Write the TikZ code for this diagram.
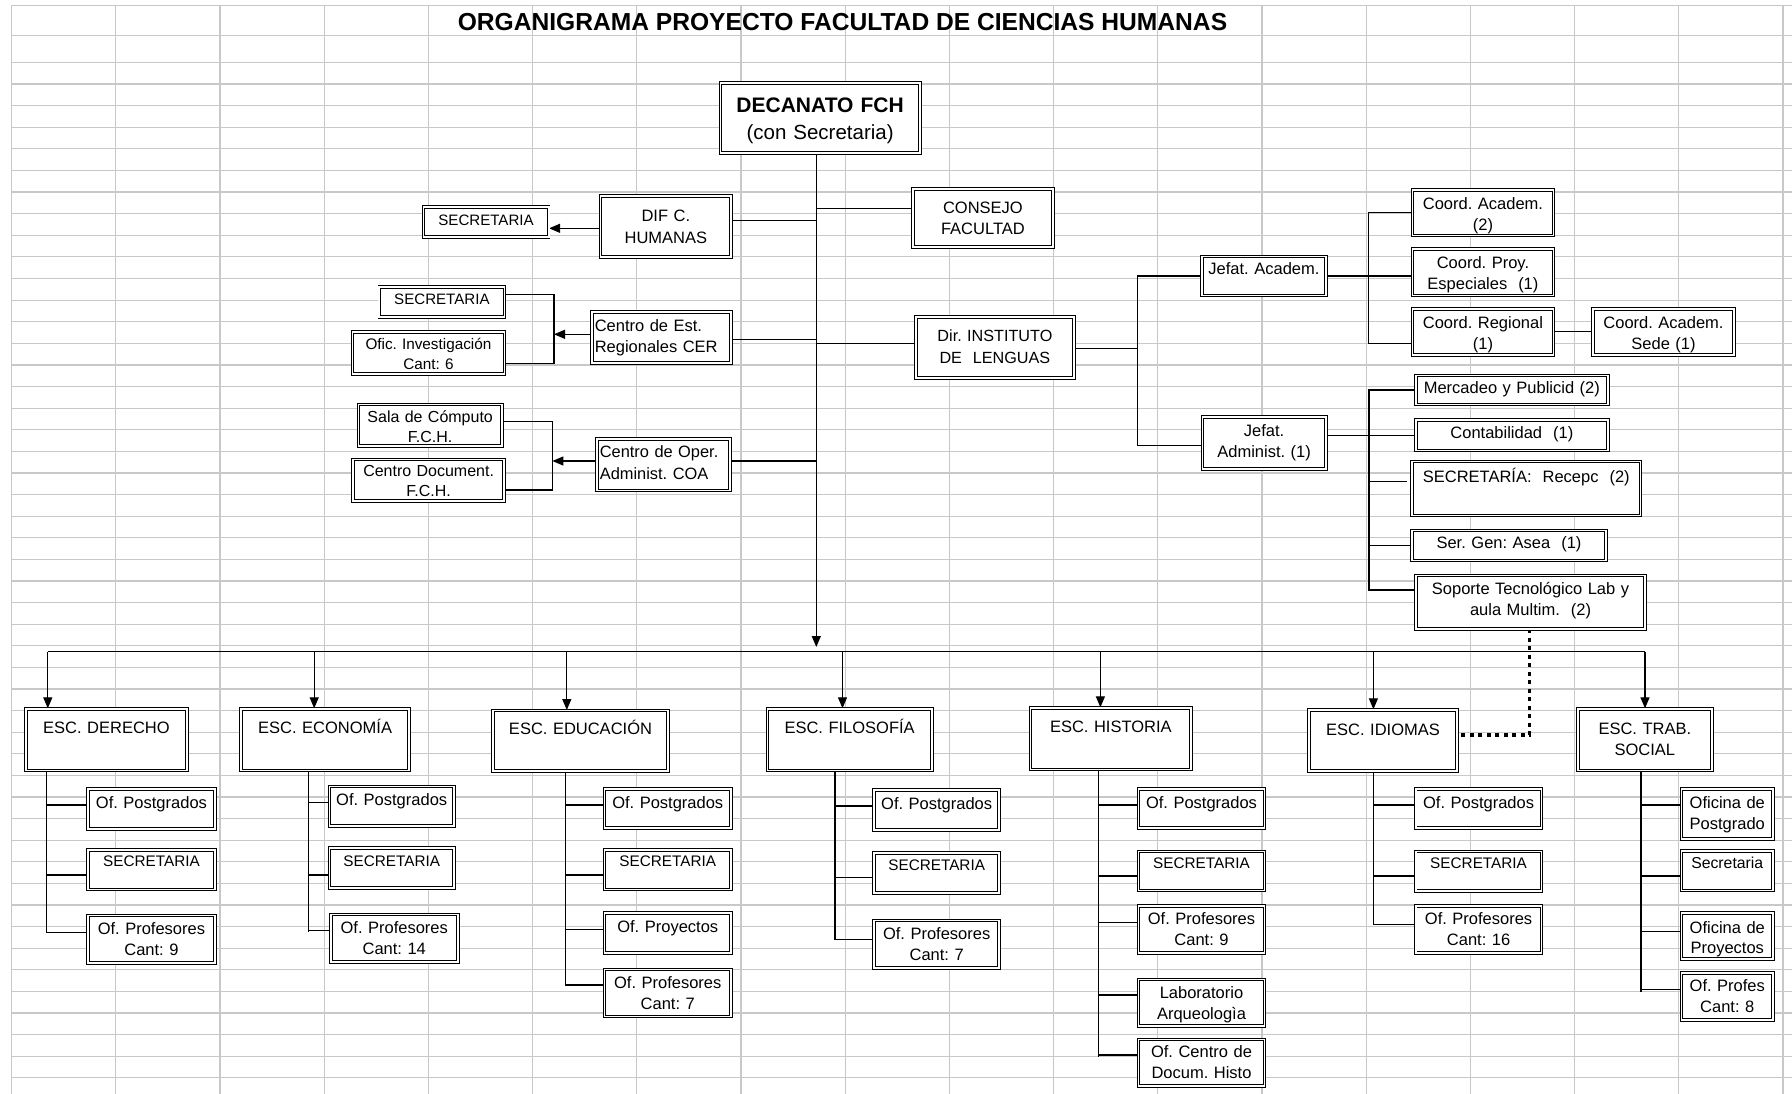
\documentclass[tikz,border=0pt]{standalone}
\usepackage{fontspec}
\setmainfont{Liberation Sans}
\usetikzlibrary{arrows.meta}
\definecolor{gridc}{RGB}{200,200,200}
\pgfdeclarelayer{gridlayer}
\pgfdeclarelayer{linelayer}
\pgfsetlayers{gridlayer,linelayer,main}
\tikzset{
  ob/.style={draw=black, double=white, double distance=1.8pt, line width=0.9pt,
    fill=white, inner xsep=3pt, inner ysep=0pt, font=\fontsize{16.5}{21}\selectfont},
  sm/.style={font=\fontsize{15.3}{20}\selectfont},
  ln/.style={line width=1.25pt, draw=black},
  arr/.style={ln, -{Triangle[length=11pt,width=9pt]}},
  dotl/.style={line width=3.5pt, dash pattern=on 4pt off 4.5pt},
  gridl/.style={line width=1.2pt, draw=gridc},
}
\newcommand\obox[8]{%
  \pgfmathsetmacro\obw{#4-6}%
  \pgfmathsetmacro\obd{#5-#6}%
  \node[ob, anchor=north west, text width=\obw pt, text height=#6pt,
        text depth=\obd pt, align=center, #7] (#1) at (#2,#3) {\frenchspacing #8};}
\begin{document}
\frenchspacing
\begin{tikzpicture}[x=1pt,y=-1pt]
\useasboundingbox (0,0) rectangle (1792,1094);
\begin{pgfonlayer}{gridlayer}
  \fill[white] (0,0) rectangle (1792,1094);
  \foreach \k in {0,...,17} \draw[gridl] ({11.5+\k*104.2},5.5) -- ({11.5+\k*104.2},1094);
  \draw[gridl] (11.5,5.5) -- (1792,5.5);
  \draw[gridl] (11.5,35.7) -- (1792,35.7);
  \foreach \k in {0,...,47} \draw[gridl] (11.5,{62.5+\k*21.6}) -- (1792,{62.5+\k*21.6});
\end{pgfonlayer}

% title
\node[font=\bfseries\fontsize{24.6}{28}\selectfont, anchor=base] (title) at (842.5,30.5)
  {ORGANIGRAMA PROYECTO FACULTAD DE CIENCIAS HUMANAS};

% top part
\obox{dec}{720}{82.7}{199.3}{69.6}{29.2}{font=\fontsize{21}{27.2}\selectfont}{\textbf{DECANATO FCH}\\{\fontsize{20.5}{27.2}\selectfont(con Secretaria)}}
\obox{consejo}{912.5}{188.3}{139.9}{58.4}{24.3}{font=\fontsize{16.5}{21.6}\selectfont}{CONSEJO\\FACULTAD}
\obox{dif}{600}{195.7}{130.8}{61}{25.3}{font=\fontsize{16.5}{21.7}\selectfont}{DIF C.\\HUMANAS}
\obox{sec1}{423}{206.7}{125.2}{30}{18}{font=\fontsize{15.1}{20}\selectfont}{SECRETARIA}
\obox{sec2}{378.9}{286.7}{125.1}{30}{17.7}{font=\fontsize{15.1}{20}\selectfont}{SECRETARIA}
\obox{ofinv}{352}{331.7}{152}{41.6}{17.1}{font=\fontsize{15.3}{20}\selectfont}{Ofic. Investigación\\Cant: 6}
\obox{cer}{591.3}{311.7}{139.5}{51}{19.3}{align=left}{Centro de Est.\\Regionales CER}
\obox{sala}{358}{404}{143.5}{41.7}{17.8}{font=\fontsize{16}{20.7}\selectfont}{Sala de Cómputo\\F.C.H.}
\obox{cdoc}{352.6}{459}{151.2}{41.7}{17.5}{font=\fontsize{16}{19.5}\selectfont}{Centro Document.\\F.C.H.}
\obox{coa}{596.4}{438.3}{133.2}{51.7}{18.7}{align=left, font=\fontsize{16.4}{21.7}\selectfont}{Centro de Oper.\\Administ. COA}
\obox{dir}{915.4}{316.7}{158.1}{61}{24.3}{font=\fontsize{16.2}{21.7}\selectfont}{Dir. INSTITUTO\\DE~~LENGUAS}
\obox{jefac}{1201.5}{256}{124}{39}{18.3}{}{Jefat. Academ.}
\obox{jefad}{1202}{416.7}{123.3}{51.6}{19.3}{font=\fontsize{16.5}{20.7}\selectfont}{Jefat.\\Administ. (1)}
\obox{coordac}{1412}{189.3}{141}{45.7}{19.4}{}{Coord. Academ.\\(2)}
\obox{coordproy}{1412}{248.3}{141}{46.7}{20}{}{Coord. Proy.\\Especiales~~(1)}
\obox{coordreg}{1412}{308.3}{141}{46}{19.4}{}{Coord. Regional\\(1)}
\obox{sede}{1592.8}{308.3}{140.5}{46}{19.4}{}{Coord. Academ.\\Sede (1)}
\obox{merc}{1415.4}{375}{192}{29}{18.3}{}{Mercadeo y Publicid (2)}
\obox{contab}{1415.4}{419.3}{192}{30.7}{18.4}{}{Contabilidad~~(1)}
\obox{secr}{1411.7}{461}{228.3}{54}{21}{}{SECRETARÍA:~~Recepc~~(2)}
\obox{sergen}{1411.3}{530}{194.5}{30}{18.3}{}{Ser. Gen: Asea~~(1)}
\obox{soporte}{1415.4}{575}{229.3}{53.3}{19.3}{}{Soporte Tecnológico Lab y\\aula Multim.~~(2)}

% schools
\obox{derecho}{25.6}{708.3}{160.8}{61.7}{24.4}{}{ESC. DERECHO}
\obox{economia}{240.7}{708.3}{168}{61.7}{24.4}{}{ESC. ECONOMÍA}
\obox{educacion}{492.5}{710}{175.1}{60.7}{24}{}{ESC. EDUCACIÓN}
\obox{filosofia}{767}{708.3}{164.3}{61.7}{25}{}{ESC. FILOSOFÍA}
\obox{historia}{1030}{707.3}{160.8}{61.7}{24.7}{}{ESC. HISTORIA}
\obox{idiomas}{1308.8}{709.3}{147.6}{61.4}{25.7}{}{ESC. IDIOMAS}
\obox{trabsoc}{1577.3}{708.3}{134.2}{61.7}{26}{font=\fontsize{16.5}{20.7}\selectfont}{ESC. TRAB.\\SOCIAL}

% Derecho
\obox{d1}{87.3}{788.3}{127.4}{40}{19.4}{}{Of. Postgrados}
\obox{d2}{87.3}{849.3}{127.4}{39.7}{17.2}{sm}{SECRETARIA}
\obox{d3}{87.3}{915}{127.4}{47.7}{19.3}{}{Of. Profesores\\Cant: 9}
% Economia
\obox{e1}{329}{786}{124.5}{39.7}{19}{}{Of. Postgrados}
\obox{e2}{329}{847.7}{124.5}{40}{18.1}{sm}{SECRETARIA}
\obox{e3}{330.3}{914}{127}{47.7}{19}{}{Of. Profesores\\Cant: 14}
% Educacion
\obox{ed1}{604}{788.3}{126.6}{39.4}{19.4}{}{Of. Postgrados}
\obox{ed2}{604}{849.3}{126.6}{39.7}{17.2}{sm}{SECRETARIA}
\obox{ed3}{604}{912.7}{126.6}{40}{19}{}{Of. Proyectos}
\obox{ed4}{604}{969}{126.6}{47}{18.7}{}{Of. Profesores\\Cant: 7}
% Filosofia
\obox{f1}{873.6}{789.3}{125.2}{40}{19.4}{}{Of. Postgrados}
\obox{f2}{873.6}{852.7}{125.2}{40}{17.8}{sm}{SECRETARIA}
\obox{f3}{873.6}{920}{125.2}{47.3}{19.3}{}{Of. Profesores\\Cant: 7}
% Historia
\obox{h1}{1138.1}{788.3}{125.9}{39.4}{19.4}{}{Of. Postgrados}
\obox{h2}{1138.1}{851}{125.9}{39}{17.2}{sm}{SECRETARIA}
\obox{h3}{1138.1}{905.7}{125.9}{46.6}{18}{}{Of. Profesores\\Cant: 9}
\obox{h4}{1138.1}{979}{125.9}{46.7}{18.7}{}{Laboratorio\\Arqueologìa}
\obox{h5}{1138.1}{1039}{125.9}{46.7}{18}{}{Of. Centro de\\Docum. Histo}
% Idiomas
\obox{i1}{1415.2}{788.3}{125.8}{39.4}{19.4}{}{Of. Postgrados}
\obox{i2}{1415.2}{851}{125.8}{39.7}{17.2}{sm}{SECRETARIA}
\obox{i3}{1415.2}{905.3}{125.8}{47.4}{18.4}{}{Of. Profesores\\Cant: 16}
% Trabajo social
\obox{t1}{1681}{788.3}{91.6}{50}{19.4}{font=\fontsize{16.5}{21.6}\selectfont}{Oficina de\\Postgrado}
\obox{t2}{1681}{850.7}{91.6}{39.3}{17.6}{font=\fontsize{15.8}{20}\selectfont}{Secretaria}
\obox{t3}{1681}{912.7}{91.6}{45.6}{20}{font=\fontsize{16.5}{20}\selectfont}{Oficina de\\Proyectos}
\obox{t4}{1681}{972.7}{91.6}{46.6}{18.3}{}{Of. Profes\\Cant: 8}

% connectors
\begin{pgfonlayer}{linelayer}
  \coordinate (hub) at (816.3,647);
  \coordinate (busL) at (47.8,651.7);
  \coordinate (busR) at (1645,651.7);
  \draw[arr] (dec.south -| hub) -- (hub);
  \draw[ln] (busL) -- (busR);
  \foreach \n/\x in {derecho/47.8, economia/314.2, educacion/566.8, filosofia/842.5,
      historia/1100.4, idiomas/1373.4, trabsoc/1645}
    \draw[arr] (busL -| \x,0) -- (\n.north -| \x,0);

  % left branches
  \draw[ln] (dif.east |- 0,220.7) -- (hub |- 0,220.7);
  \draw[arr] (dif.west |- 0,228.3) -- (sec1.east |- 0,228.3);
  \draw[ln] (hub |- 0,208.3) -- (consejo.west |- 0,208.3);
  \draw[ln] (cer.east |- 0,339.3) -- (hub |- 0,339.3);
  \draw[ln] (hub |- 0,343.3) -- (dir.west |- 0,343.3);
  \coordinate (brA) at (554,334.3);
  \draw[arr] (cer.west |- brA) -- (brA);
  \draw[ln] (sec2.east |- 0,294.3) -- (brA |- 0,294.3) -- (brA |- 0,363.3) -- (ofinv.east |- 0,363.3);
  \draw[ln] (coa.east |- 0,461) -- (hub |- 0,461);
  \coordinate (brB) at (552.4,461);
  \draw[arr] (coa.west |- brB) -- (brB);
  \draw[ln] (sala.east |- 0,421.7) -- (brB |- 0,421.7) -- (brB |- 0,490) -- (cdoc.east |- 0,490);

  % Instituto de lenguas
  \coordinate (dv) at (1137.8,348.3);
  \draw[ln] (dir.east |- dv) -- (dv);
  \draw[ln] (jefac.west) -- (jefac.west -| dv) -- (dv |- 0,445.7) -- (jefad.west |- 0,445.7);
  \coordinate (cv) at (1368.2,275.5);
  \draw[ln] (jefac.east) -- (coordproy.west |- jefac.east);
  \draw[ln] (coordac.west) -- (coordac.west -| cv) -- (cv |- 0,343.3) -- (coordreg.west |- 0,343.3);
  \draw[ln] (coordreg.east) -- (sede.west);
  \coordinate (av) at (1369,435.7);
  \draw[ln] (jefad.east |- av) -- (contab.west |- av);
  \draw[ln] (merc.west) -- (merc.west -| av) -- (av |- 0,590) -- (soporte.west |- 0,590);
  \draw[ln] (av |- 0,481.7) -- (1407,481.7);
  \draw[ln] (av |- sergen.west) -- (sergen.west);
  \coordinate (dc) at (1529.6,735);
  \draw[dotl] (soporte.south -| dc) -- (dc) -- (idiomas.east |- dc);

  % school subtrees
  \draw[ln] (derecho.south -| 46.7,0) -- (46.7,933.3);
  \foreach \y/\n in {805/d1, 875/d2, 932.3/d3} \draw[ln] (46.7,\y) -- (\n.west |- 0,\y);
  \draw[ln] (economia.south -| 308.8,0) -- (308.8,931.7);
  \foreach \y/\n in {802.7/e1, 875/e2, 930.7/e3} \draw[ln] (308.8,\y) -- (\n.west |- 0,\y);
  \draw[ln] (educacion.south -| 565.3,0) -- (565.3,985);
  \foreach \y/\n in {805/ed1, 875/ed2, 929.3/ed3, 985/ed4} \draw[ln] (565.3,\y) -- (\n.west |- 0,\y);
  \draw[ln] (filosofia.south -| 835,0) -- (835,940);
  \foreach \y/\n in {806/f1, 877.3/f2, 939.3/f3} \draw[ln] (835,\y) -- (\n.west |- 0,\y);
  \draw[ln] (historia.south -| 1098.8,0) -- (1098.8,1056.7);
  \foreach \y/\n in {805/h1, 876/h2, 922.7/h3, 995/h4, 1055/h5} \draw[ln] (1098.8,\y) -- (\n.west |- 0,\y);
  \draw[ln] (idiomas.south -| 1373.4,0) -- (1373.4,925);
  \foreach \y/\n in {805/i1, 876/i2, 924.3/i3} \draw[ln] (1373.4,\y) -- (\n.west |- 0,\y);
  \draw[ln] (trabsoc.south -| 1641,0) -- (1641,991.7);
  \foreach \y/\n in {805/t1, 876/t2, 931.7/t3, 989.3/t4} \draw[ln] (1641,\y) -- (\n.west |- 0,\y);
\end{pgfonlayer}
\end{tikzpicture}
\end{document}
